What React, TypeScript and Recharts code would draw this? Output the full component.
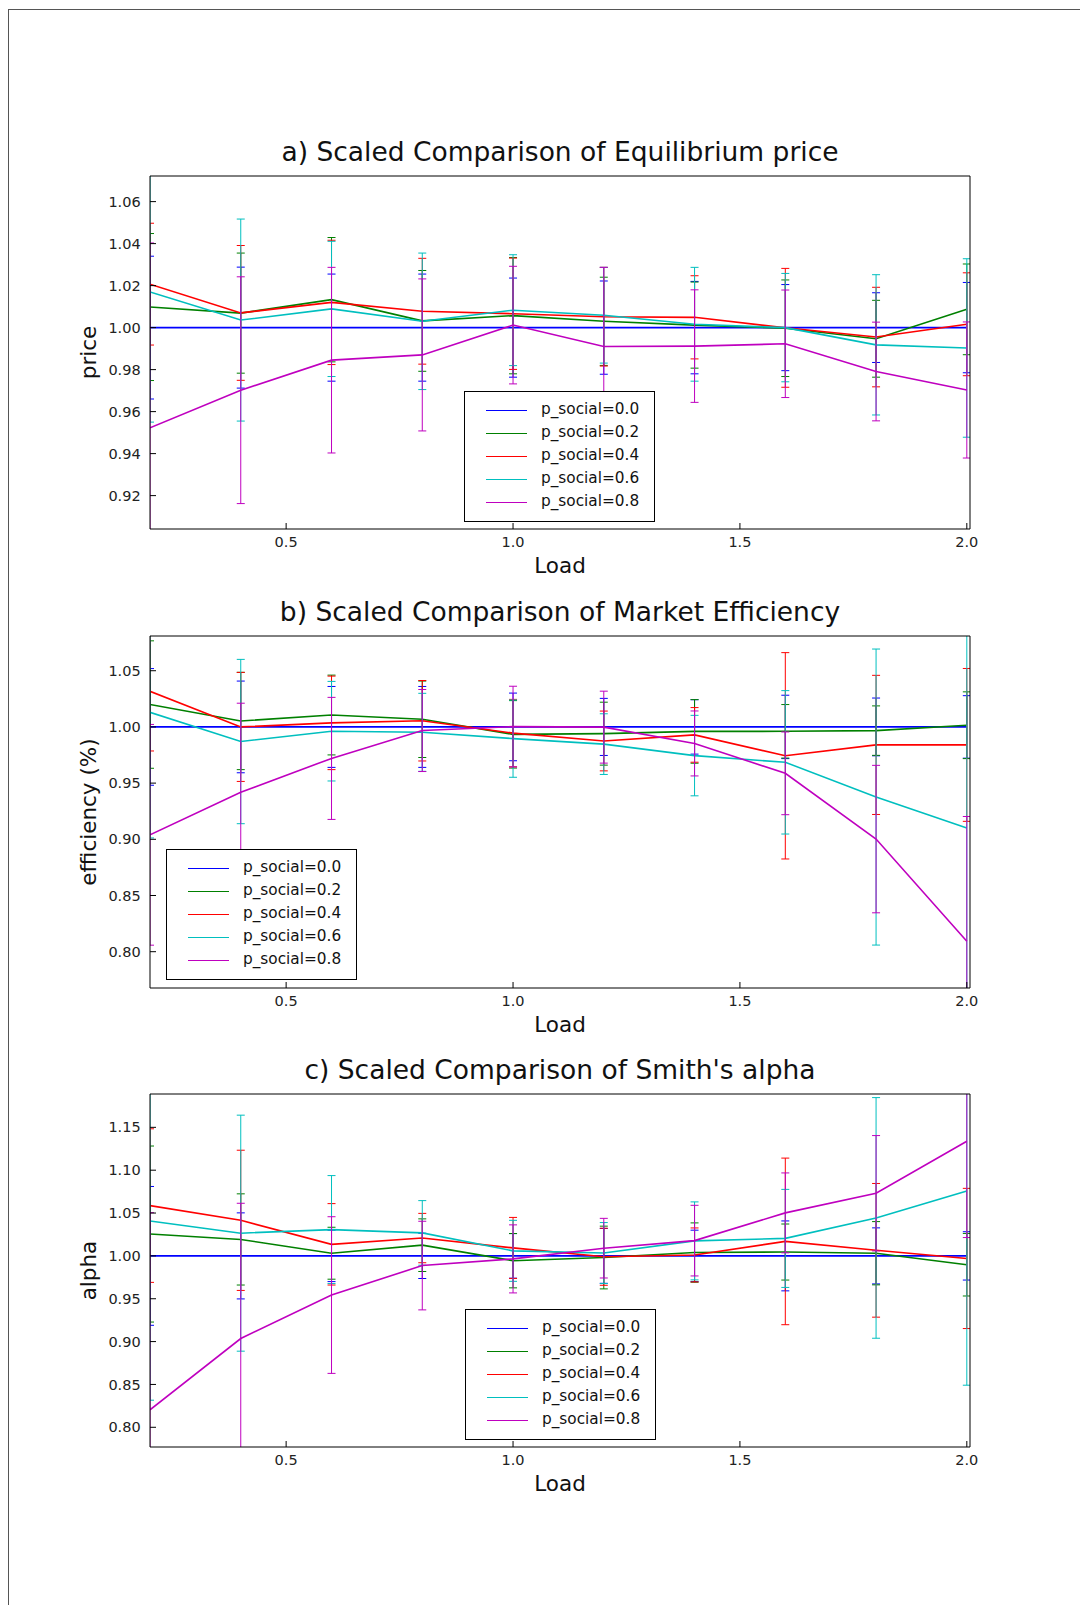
import React from "react";
import { LineChart, Line, XAxis, YAxis, ErrorBar, Legend } from "recharts";

// load levels shared by all three panels
const loads = [0.2, 0.4, 0.6, 0.8, 1.0, 1.2, 1.4, 1.6, 1.8, 2.0];
const xTicks = [0.5, 1.0, 1.5, 2.0];

const seriesNames = [
  "p_social=0.0",
  "p_social=0.2",
  "p_social=0.4",
  "p_social=0.6",
  "p_social=0.8",
];
const seriesColors = ["#0000ff", "#008000", "#ff0000", "#00bfbf", "#bf00bf"];

// a) equilibrium price, scaled to the p_social=0.0 run
const priceMeans = [
  [1, 1, 1, 1, 1, 1, 1, 1, 1, 1],
  [1.0098, 1.0069, 1.0133, 1.0032, 1.0057, 1.003, 1.0012, 0.9997, 0.9947, 1.0087],
  [1.0207, 1.007, 1.012, 1.0078, 1.0066, 1.0052, 1.0049, 0.9999, 0.9955, 1.0016],
  [1.017, 1.0036, 1.0089, 1.003, 1.0083, 1.0059, 1.0016, 1.0, 0.9918, 0.9903],
  [0.9523, 0.9702, 0.9845, 0.987, 1.0012, 0.991, 0.9912, 0.9923, 0.9791, 0.9703],
];
const priceErrs = [
  [0.034, 0.0288, 0.0255, 0.0255, 0.0236, 0.0222, 0.022, 0.0205, 0.0166, 0.0215],
  [0.035, 0.0286, 0.0296, 0.024, 0.0277, 0.021, 0.0205, 0.023, 0.0183, 0.0216],
  [0.029, 0.0321, 0.0296, 0.0252, 0.0265, 0.0235, 0.0198, 0.0283, 0.0237, 0.0245],
  [0.062, 0.0481, 0.0322, 0.0325, 0.0264, 0.0228, 0.0271, 0.0258, 0.0334, 0.0425],
  [0.088, 0.054, 0.0442, 0.0362, 0.028, 0.0377, 0.0268, 0.0256, 0.0235, 0.0324],
];
const priceTicks = [0.92, 0.94, 0.96, 0.98, 1.0, 1.02, 1.04, 1.06];

// b) market efficiency
const effMeans = [
  [1, 1, 1, 1, 1, 1, 1, 1, 1, 1],
  [1.0199, 1.0053, 1.0106, 1.0068, 0.9934, 0.994, 0.996, 0.9961, 0.9967, 1.0015],
  [1.0317, 1.0, 1.0036, 1.0055, 0.9945, 0.9875, 0.9929, 0.9743, 0.984, 0.984],
  [1.013, 0.987, 0.9962, 0.9952, 0.9896, 0.9847, 0.9745, 0.9685, 0.9376, 0.9101],
  [0.904, 0.9419, 0.972, 0.9968, 1.0003, 0.9998, 0.9853, 0.9587, 0.9002, 0.8093],
];
const effErrs = [
  [0.0519, 0.0408, 0.036, 0.036, 0.0301, 0.0254, 0.0242, 0.0282, 0.0257, 0.0278],
  [0.0567, 0.0433, 0.0355, 0.034, 0.03, 0.028, 0.0283, 0.0238, 0.022, 0.0297],
  [0.0531, 0.0485, 0.0416, 0.0358, 0.03, 0.0266, 0.0243, 0.0918, 0.0619, 0.068],
  [0.1118, 0.0731, 0.0443, 0.0347, 0.0344, 0.027, 0.0358, 0.0638, 0.1317, 0.185],
  [0.0982, 0.0792, 0.0543, 0.0365, 0.0359, 0.032, 0.0289, 0.0368, 0.0656, 0.111],
];
const effTicks = [0.8, 0.85, 0.9, 0.95, 1.0, 1.05];

// c) Smith's alpha
const alphaMeans = [
  [1, 1, 1, 1, 1, 1, 1, 1, 1, 1],
  [1.0255, 1.0192, 1.0031, 1.0125, 0.9944, 0.9981, 1.0039, 1.0045, 1.0031, 0.9897],
  [1.0587, 1.0415, 1.0135, 1.0208, 1.0093, 0.999, 1.0011, 1.0169, 1.0065, 0.997],
  [1.0408, 1.0265, 1.0307, 1.0268, 1.0059, 1.0033, 1.0175, 1.0204, 1.0443, 1.0758],
  [0.8204, 0.9036, 0.9543, 0.9887, 0.9965, 1.009, 1.0178, 1.0502, 1.0731, 1.1337],
];
const alphaErrs = [
  [0.081, 0.0502, 0.03, 0.0264, 0.026, 0.032, 0.03, 0.0408, 0.0327, 0.0282],
  [0.1027, 0.0532, 0.0303, 0.0307, 0.0317, 0.0366, 0.0346, 0.0327, 0.0369, 0.0365],
  [0.0896, 0.0818, 0.0475, 0.0288, 0.0356, 0.0333, 0.0315, 0.0972, 0.078, 0.0818],
  [0.2092, 0.1377, 0.063, 0.0377, 0.0356, 0.0356, 0.0455, 0.0572, 0.1404, 0.2267],
  [0.23, 0.1578, 0.0914, 0.0517, 0.0397, 0.0348, 0.0412, 0.0466, 0.0673, 0.1123],
];
const alphaTicks = [0.8, 0.85, 0.9, 0.95, 1.0, 1.05, 1.1, 1.15];

const FONT = "'DejaVu Sans', Verdana, sans-serif";
const CHART_W = 1080;
const PLOT_LEFT = 150;
const PLOT_RIGHT = 970;
const X_DOMAIN: [number, number] = [0.2, 2.007];
const X_AXIS_H = 60;
const TOP_PAD = 10;

const buildRows = (means: number[][], errs: number[][]) =>
  loads.map((x, i) => {
    const row: Record<string, number> = { x };
    means.forEach((m, s) => {
      row[`m${s}`] = m[i];
      row[`e${s}`] = errs[s][i];
    });
    return row;
  });

const LegendBox = (props: any) => {
  const payload = props.payload ?? [];
  return (
    <div
      style={{
        width: 191,
        height: 131,
        border: "1px solid #000",
        boxSizing: "border-box",
        background: "#fff",
        position: "relative",
        fontFamily: FONT,
        fontSize: 15.3,
        color: "#111",
      }}
    >
      {payload.map((p: any, i: number) => (
        <div
          key={i}
          style={{ position: "absolute", left: 0, top: 18 + i * 23.1, width: "100%" }}
        >
          <div
            style={{
              position: "absolute",
              left: 21,
              top: 0,
              width: 41,
              height: 0,
              borderTop: `1.4px solid ${p.color}`,
            }}
          />
          <span
            style={{
              position: "absolute",
              left: 76,
              top: -12,
              lineHeight: "22px",
              whiteSpace: "nowrap",
            }}
          >
            {p.value}
          </span>
        </div>
      ))}
    </div>
  );
};

interface PanelProps {
  id: string;
  plotTop: number;
  plotHeight: number;
  title: string;
  yLabel: string;
  means: number[][];
  errs: number[][];
  yDomain: [number, number];
  yTicks: number[];
  legendLeft: number;
  legendTop: number;
}

const Panel: React.FC<PanelProps> = ({
  id,
  plotTop,
  plotHeight,
  title,
  yLabel,
  means,
  errs,
  yDomain,
  yTicks,
  legendLeft,
  legendTop,
}) => {
  const rows = buildRows(means, errs);
  const chartTop = plotTop - TOP_PAD;
  const chartH = TOP_PAD + plotHeight + X_AXIS_H;
  const clipId = `errclip-${id}`;

  return (
    <>
      {/* error bars are cut at the plot frame, like the curves */}
      <svg width={0} height={0} style={{ position: "absolute" }}>
        <defs>
          <clipPath id={clipId}>
            <rect x={PLOT_LEFT} y={TOP_PAD} width={PLOT_RIGHT - PLOT_LEFT} height={plotHeight} />
          </clipPath>
        </defs>
      </svg>
      <style>{`.panel-${id} .recharts-errorBars, .panel-${id} .recharts-errorBar { clip-path: url(#${clipId}); }`}</style>
      <div
        style={{
          position: "absolute",
          left: PLOT_LEFT,
          width: PLOT_RIGHT - PLOT_LEFT,
          top: plotTop - 39,
          textAlign: "center",
          fontFamily: FONT,
          fontSize: 26.5,
          lineHeight: "30px",
          color: "#111",
          whiteSpace: "nowrap",
        }}
      >
        {title}
      </div>
      <div className={`panel-${id}`} style={{ position: "absolute", left: 0, top: chartTop }}>
        <LineChart
          width={CHART_W}
          height={chartH}
          data={rows}
          margin={{ top: TOP_PAD - 1, right: CHART_W - PLOT_RIGHT - 1, left: 26, bottom: 0 }}
          style={{ fontFamily: FONT }}
        >
          <XAxis
            dataKey="x"
            type="number"
            domain={X_DOMAIN}
            allowDataOverflow
            ticks={xTicks}
            tickFormatter={(v: number) => v.toFixed(1)}
            height={X_AXIS_H}
            tickSize={-6}
            tickMargin={13.3}
            stroke="#000"
            tick={{ fill: "#222", fontSize: 14.5 }}
            label={{ value: "Load", position: "insideBottom", offset: 16, fontSize: 21.5, fill: "#111" }}
          />
          <XAxis
            xAxisId="top"
            orientation="top"
            type="number"
            domain={X_DOMAIN}
            allowDataOverflow
            ticks={xTicks}
            height={1}
            tickSize={-6}
            tick={false}
            stroke="#000"
          />
          <YAxis
            type="number"
            domain={yDomain}
            allowDataOverflow
            ticks={yTicks}
            tickFormatter={(v: number) => v.toFixed(2)}
            width={PLOT_LEFT - 26}
            tickSize={-6}
            tickMargin={15.3}
            stroke="#000"
            tick={{ fill: "#222", fontSize: 14.5 }}
            label={{ value: yLabel, angle: -90, position: "center", fontSize: 21.5, fill: "#111" }}
          />
          <YAxis
            yAxisId="right"
            orientation="right"
            type="number"
            domain={yDomain}
            allowDataOverflow
            ticks={yTicks}
            width={1}
            tickSize={-6}
            tick={false}
            stroke="#000"
          />
          {seriesNames.map((name, s) => (
            <Line
              key={name}
              type="linear"
              dataKey={`m${s}`}
              name={name}
              stroke={seriesColors[s]}
              strokeWidth={1.6}
              dot={false}
              activeDot={false}
              isAnimationActive={false}
            >
              <ErrorBar
                dataKey={`e${s}`}
                direction="y"
                width={4}
                stroke={seriesColors[s]}
                strokeWidth={1}
                isAnimationActive={false}
              />
            </Line>
          ))}
          <Legend
            verticalAlign="middle"
            align="center"
            layout="horizontal"
            wrapperStyle={{ left: legendLeft, top: legendTop, width: 191, height: 131 }}
            content={LegendBox}
          />
        </LineChart>
      </div>
    </>
  );
};

export default function App() {
  return (
    <div
      style={{
        position: "absolute",
        left: 0,
        top: 0,
        width: 1080,
        height: 1605,
        background: "#fff",
        overflow: "hidden",
      }}
    >
      <div
        style={{
          position: "absolute",
          left: 8,
          top: 9,
          width: 1080,
          height: 1605,
          borderTop: "1px solid #555",
          borderLeft: "1px solid #555",
        }}
      />
      <Panel
        id="a"
        plotTop={176}
        plotHeight={353}
        title="a) Scaled Comparison of Equilibrium price"
        yLabel="price"
        means={priceMeans}
        errs={priceErrs}
        yDomain={[0.9041, 1.0722]}
        yTicks={priceTicks}
        legendLeft={464}
        legendTop={225}
      />
      <Panel
        id="b"
        plotTop={636}
        plotHeight={352}
        title="b) Scaled Comparison of Market Efficiency"
        yLabel="efficiency (%)"
        means={effMeans}
        errs={effErrs}
        yDomain={[0.7677, 1.0809]}
        yTicks={effTicks}
        legendLeft={166}
        legendTop={223}
      />
      <Panel
        id="c"
        plotTop={1094}
        plotHeight={353}
        title="c) Scaled Comparison of Smith's alpha"
        yLabel="alpha"
        means={alphaMeans}
        errs={alphaErrs}
        yDomain={[0.777, 1.1889]}
        yTicks={alphaTicks}
        legendLeft={465}
        legendTop={225}
      />
    </div>
  );
}
